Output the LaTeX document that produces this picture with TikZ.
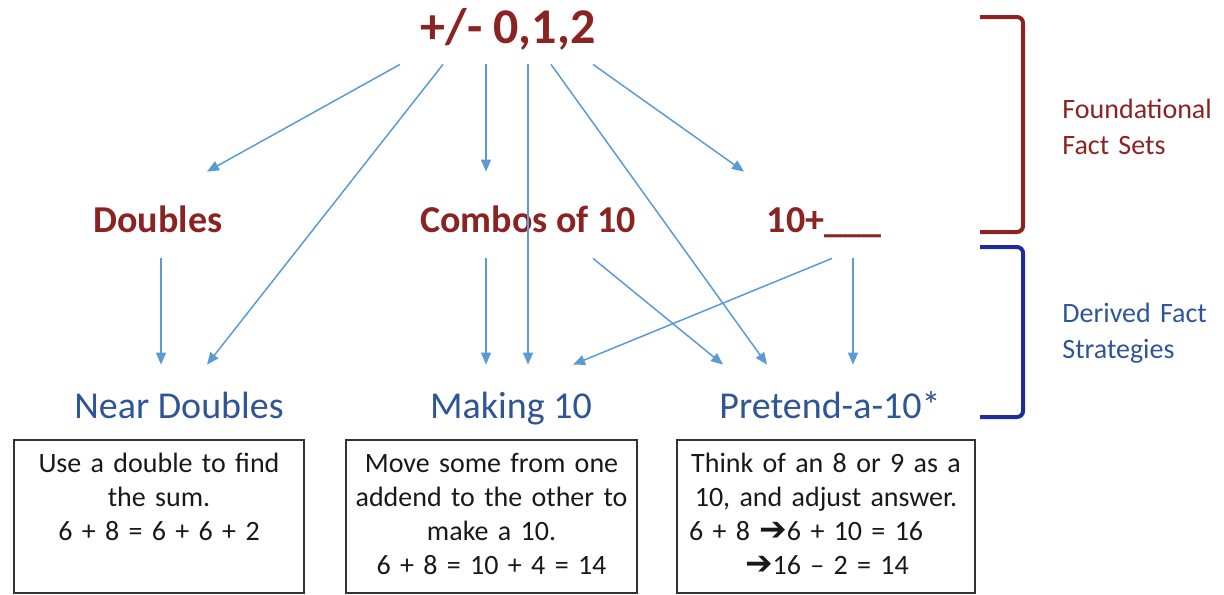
\documentclass[tikz,border=0pt]{standalone}
\usepackage{fontspec}
\setmainfont{Carlito}
\newfontfamily\dingfont{DejaVu Sans}
\usetikzlibrary{arrows.meta}
\definecolor{FactRed}{HTML}{8B2323}
\definecolor{FactBlue}{HTML}{2F5597}
\definecolor{LinkBlue}{HTML}{5B9BD5}
\definecolor{BraceRed}{HTML}{8E2121}
\definecolor{BraceBlue}{HTML}{1F2E96}
\newcommand{\thenarrow}{{\dingfont\bfseries\fontsize{16.5}{17}\selectfont ➔}}
\tikzset{
  basefact/.style={text=FactRed, font=\fontsize{25}{29}\selectfont\bfseries,
    inner ysep=0pt, text height=16pt, text depth=10.5pt, anchor=base},
  fact/.style={text=FactRed, font=\fontsize{19}{23}\selectfont\bfseries,
    inner ysep=0pt, text height=30pt, text depth=13pt, anchor=base},
  strategy/.style={text=FactBlue, font=\fontsize{19}{23}\selectfont,
    inner ysep=0pt, text height=26.5pt, text depth=5pt, anchor=base},
  notebox/.style={draw=black!80, line width=0.9pt, text=black!90,
    font=\fontsize{14}{17}\selectfont, align=center, text width=#1,
    inner xsep=3pt, inner ysep=0pt, text height=16pt, text depth=60.5pt, anchor=base},
  tier/.style={text=#1, font=\fontsize{14}{18}\selectfont, align=left,
    text width=85pt, inner sep=0pt, anchor=base west},
  brace/.style={draw=#1, line width=2pt, rounded corners=3pt},
  flow/.style={-{Triangle[length=6pt,width=5pt]}, draw=LinkBlue, line width=0.75pt}
}

\begin{document}
\begin{tikzpicture}[x=0.5pt, y=-0.5pt]
  \useasboundingbox (0,0) rectangle (1224,594);
  % fact sets and strategies
  \node[basefact] (plus) at (508,43) {+/- 0,1,2};
  \node[fact] (dbl) at (158,232) {Doubles};
  \node[fact] (combo) at (528,232) {Combos of 10};
  \node[fact] (ten) at (824,232) {10+\_\_\_};
  \node[strategy] (near) at (179,418) {Near Doubles};
  \node[strategy] (make) at (511,418) {Making 10};
  \node[strategy] (pret) at (830,418) {Pretend-a-10*};
  % explanation boxes
  \node[notebox=139pt] (nearbox) at (159,472)
    {Use a double to find\\ the sum.\\ 6 + 8 = 6 + 6 + 2};
  \node[notebox=139.5pt] (makebox) at (491.5,472)
    {Move some from one\\ addend to the other to\\ make a 10.\\ 6 + 8 = 10 + 4 = 14};
  \node[notebox=143pt] (pretbox) at (826,472)
    {Think of an 8 or 9 as a\\ 10, and adjust answer.\\
     \makebox[\hsize][l]{\hspace*{3pt}6 + 8 \thenarrow6 + 10 = 16}\\
     \makebox[\hsize][l]{\hspace*{31pt}\thenarrow16 -- 2 = 14}};
  % arrows
  \draw[flow] (plus.south -| 400,0) -- (dbl.north -| 207,0);
  \draw[flow] (plus.south -| 443,0) -- (near.north -| 207,0);
  \draw[flow] (dbl.south -| 161,0) -- (near.north -| 161,0);
  \draw[flow] (plus.south -| 486,0) -- (combo.north -| 486,0);
  \draw[flow] (plus.south -| 528,0) -- (make.north -| 528,0);
  \draw[flow] (plus.south -| 551,0) -- (pret.north -| 767,0);
  \draw[flow] (plus.south -| 593,0) -- (ten.north -| 744,0);
  \draw[flow] (combo.south -| 486,0) -- (make.north -| 486,0);
  \draw[flow] (combo.south -| 593,0) -- (pret.north -| 723,0);
  \draw[flow] (ten.south -| 832,0) -- (make.north -| 573,0);
  \draw[flow] (ten.south -| 853,0) -- (pret.north -| 853,0);
  % brackets on the right
  \draw[brace=BraceRed] (980,17) -- (1023,17) -- (1023,232) -- (980,232);
  \draw[brace=BraceBlue] (980,247) -- (1023,247) -- (1023,417) -- (980,417);
  \node[tier=FactRed] (found) at (1062,118) {Foundational\\ Fact Sets};
  \node[tier=FactBlue] (derived) at (1062,322) {Derived Fact\\ Strategies};
\end{tikzpicture}
\end{document}
